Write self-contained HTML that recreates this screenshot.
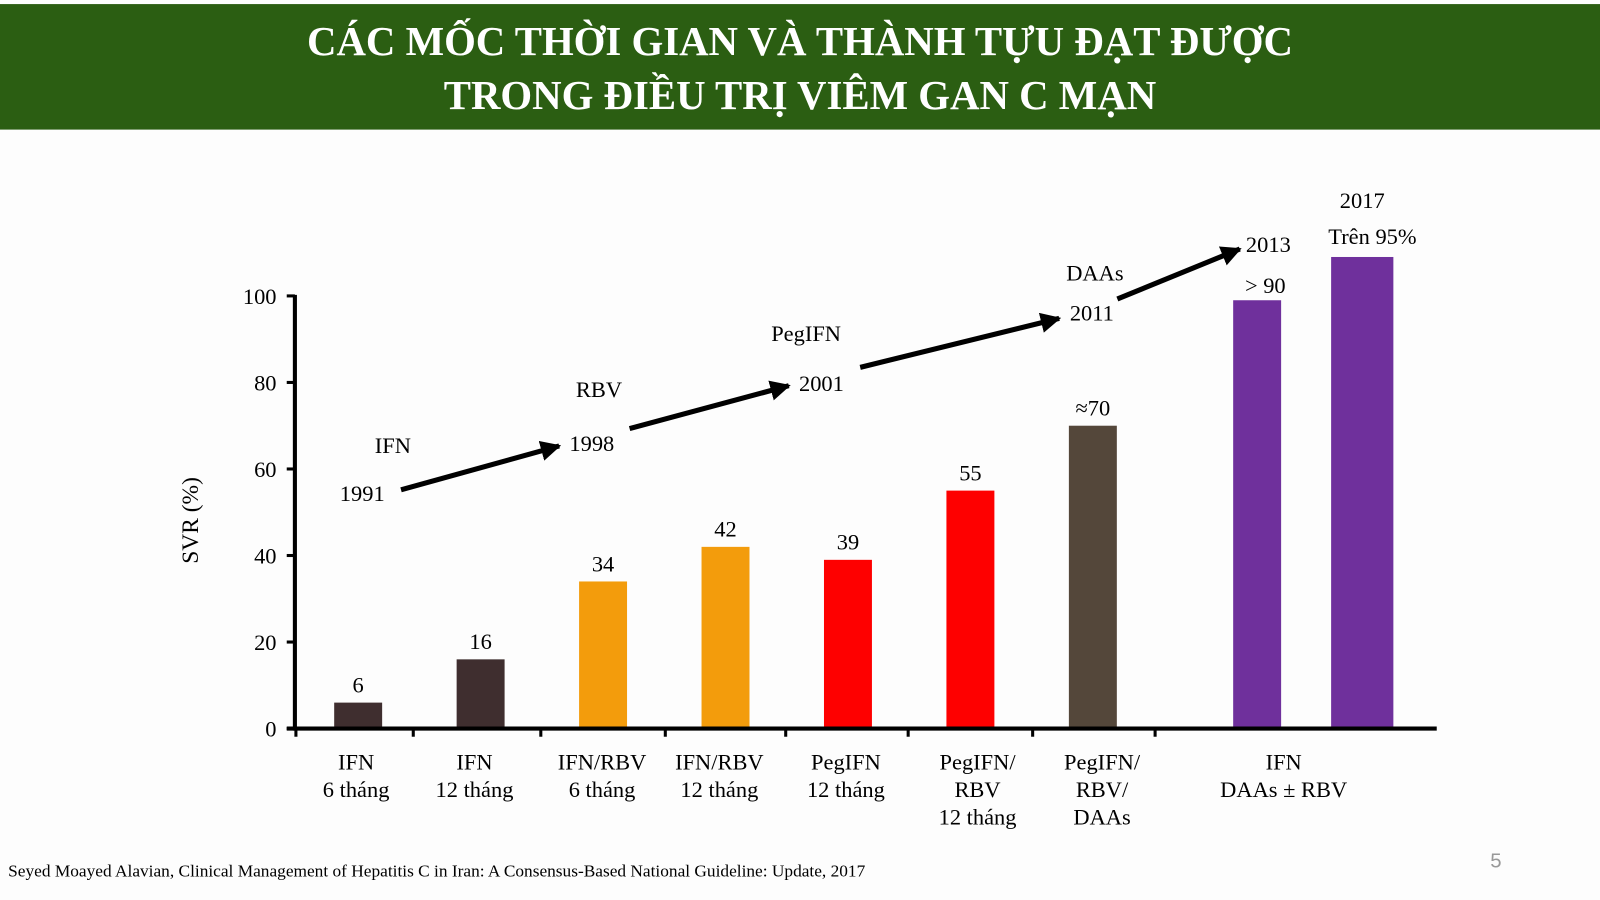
<!DOCTYPE html>
<html><head><meta charset="utf-8"><style>
html,body{margin:0;padding:0;background:#fdfdfd;}
svg{display:block;font-family:"Liberation Serif",serif;}
</style></head><body>
<svg width="1600" height="900" viewBox="0 0 1568 882">
<rect x="0" y="0" width="1568" height="882" fill="#fdfdfd"/>
<rect x="0" y="4" width="1568" height="123" fill="#2b5e12"/>
<text x="784" y="54" fill="#fff" font-size="40" font-weight="bold" text-anchor="middle">CÁC MỐC THỜI GIAN VÀ THÀNH TỰU ĐẠT ĐƯỢC</text>
<text x="784" y="107" fill="#fff" font-size="40" font-weight="bold" text-anchor="middle">TRONG ĐIỀU TRỊ VIÊM GAN C MẠN</text>
<g id="chart"></g>
<text x="194" y="510" font-size="23" text-anchor="middle" transform="rotate(-90 194 510)">SVR (%)</text>
<g font-size="22">
<text x="385" y="444" text-anchor="middle">IFN</text>
<text x="355" y="491" text-anchor="middle">1991</text>
<text x="587" y="389" text-anchor="middle">RBV</text>
<text x="580" y="442" text-anchor="middle">1998</text>
<text x="790" y="334" text-anchor="middle">PegIFN</text>
<text x="805" y="383" text-anchor="middle">2001</text>
<text x="1073" y="275" text-anchor="middle">DAAs</text>
<text x="1070" y="314" text-anchor="middle">2011</text>
<text x="1243" y="247" text-anchor="middle">2013</text>
<text x="1335" y="204" text-anchor="middle">2017</text>
<text x="1345" y="239" text-anchor="middle">Trên 95%</text>
</g>
<defs><marker id="ah" viewBox="0 0 10 10" refX="9" refY="5" markerWidth="4" markerHeight="4" orient="auto"><path d="M0,0L10,5L0,10z" fill="#000"/></marker></defs>
<g stroke="#000" stroke-width="5" marker-end="url(#ah)">
<line x1="393" y1="480" x2="548" y2="437"/>
<line x1="617" y1="420" x2="773" y2="378"/>
<line x1="843" y1="360" x2="1038" y2="312"/>
<line x1="1095" y1="293" x2="1215" y2="244"/>
</g>
<text x="8" y="859" font-size="17">Seyed Moayed Alavian, Clinical Management of Hepatitis C in Iran: A Consensus-Based National Guideline: Update, 2017</text>
<text x="1466" y="850" font-size="20" fill="#999" text-anchor="middle" font-family="Liberation Sans,sans-serif">5</text>
</svg>
<script>
const categories = [["IFN","6 tháng"],["IFN","12 tháng"],["IFN/RBV","6 tháng"],["IFN/RBV","12 tháng"],["PegIFN","12 tháng"],["PegIFN/","RBV","12 tháng"],["PegIFN/","RBV/","DAAs"],["IFN","DAAs ± RBV"]];
const values = [6,16,34,42,39,55,70,99,109];
const valueLabels = ["6","16","34","42","39","55","≈70","> 90",""];
const barGroups = [0,1,2,3,4,5,6,7,7];
const colors = ["#3f2e2f","#3f2e2f","#f39c0c","#f39c0c","#fe0000","#fe0000","#54473a","#6f309c","#6f309c"];
const yTicks = [0,20,40,60,80,100];

const NS="http://www.w3.org/2000/svg";
const g=document.getElementById('chart');
const y0=714, yScale=v=>y0-v*4.24;
const axL=289, axR=1408;
function xCenter(i){ // bar index -> center
  const grp=barGroups[i];
  if(grp<7) return 351+grp*120;
  const sub=barGroups.slice(0,i).filter(q=>q===grp).length;
  return 1232+sub*103;
}
function mk(t,a){const e=document.createElementNS(NS,t);for(const k in a)e.setAttribute(k,a[k]);g.appendChild(e);return e;}
values.forEach((v,i)=>{
  const w = i===8?61:47;
  const r=mk('rect',{x:xCenter(i)-w/2,y:yScale(v),width:w,height:y0-yScale(v),fill:colors[i]});
  
  
  if(valueLabels[i]){
    const t=mk('text',{x:xCenter(i)+(i===7?8:0),y:yScale(v)-(i===7?7:10),'font-size':22,'text-anchor':'middle'});
    t.textContent=valueLabels[i];
    
    
  }
});
// axes
const ya=mk('line',{x1:axL,y1:yScale(100)-1,x2:axL,y2:y0+2,stroke:'#000','stroke-width':4});


const xa=mk('line',{x1:axL-8,y1:y0,x2:axR,y2:y0,stroke:'#000','stroke-width':4});


yTicks.forEach(v=>{
  const l=mk('line',{x1:axL-8,y1:yScale(v),x2:axL,y2:yScale(v),stroke:'#000','stroke-width':3});
  
  
  const t=mk('text',{x:axL-18,y:yScale(v)+8,'font-size':22,'text-anchor':'end'});
  t.textContent=v;
  
  
});
[290,405,530,652,770,890,1012,1132].forEach(x=>{
  const l=mk('line',{x1:x,y1:y0,x2:x,y2:y0+8,stroke:'#000','stroke-width':3});
  
  
});
const labelCx=[349,465,590,705,829,958,1080,1258];
categories.forEach((c,i)=>{
  c.forEach((line,j)=>{
    const t=mk('text',{x:labelCx[i],y:754+j*27,'font-size':22,'text-anchor':'middle'});
    t.textContent=line;
    
    
  });
});
</script>
</body></html>
